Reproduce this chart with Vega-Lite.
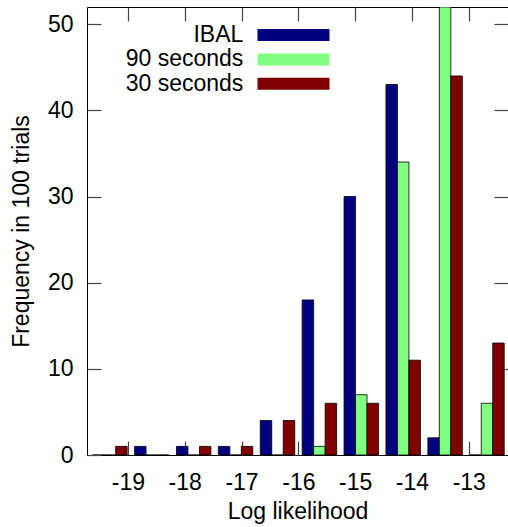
{
  "$schema": "https://vega.github.io/schema/vega-lite/v6.json",
  "autosize": {"type": "none"},
  "padding": {"left": 87, "top": 7, "right": 0, "bottom": 72},
  "width": 421,
  "height": 448,
  "config": {
    "font": "Liberation Sans",
    "view": {"stroke": "#000000", "strokeWidth": 1},
    "axis": {"grid": false, "domain": false, "labelFont": "Liberation Sans", "titleFont": "Liberation Sans", "labelFontSize": 23, "titleFontSize": 23, "labelColor": "#000", "titleColor": "#000", "titleFontWeight": "normal", "tickColor": "#444", "tickWidth": 1.2}
  },
  "layer": [
    {
      "data": {"values": [
        {"bin": -19.32, "series": "IBAL", "count": 0},
        {"bin": -19.32, "series": "90 seconds", "count": 0},
        {"bin": -19.32, "series": "30 seconds", "count": 1},
        {"bin": -18.58, "series": "IBAL", "count": 1},
        {"bin": -18.58, "series": "90 seconds", "count": 0},
        {"bin": -18.58, "series": "30 seconds", "count": 0},
        {"bin": -17.84, "series": "IBAL", "count": 1},
        {"bin": -17.84, "series": "90 seconds", "count": 0},
        {"bin": -17.84, "series": "30 seconds", "count": 1},
        {"bin": -17.11, "series": "IBAL", "count": 1},
        {"bin": -17.11, "series": "90 seconds", "count": 0},
        {"bin": -17.11, "series": "30 seconds", "count": 1},
        {"bin": -16.37, "series": "IBAL", "count": 4},
        {"bin": -16.37, "series": "90 seconds", "count": 0},
        {"bin": -16.37, "series": "30 seconds", "count": 4},
        {"bin": -15.63, "series": "IBAL", "count": 18},
        {"bin": -15.63, "series": "90 seconds", "count": 1},
        {"bin": -15.63, "series": "30 seconds", "count": 6},
        {"bin": -14.89, "series": "IBAL", "count": 30},
        {"bin": -14.89, "series": "90 seconds", "count": 7},
        {"bin": -14.89, "series": "30 seconds", "count": 6},
        {"bin": -14.15, "series": "IBAL", "count": 43},
        {"bin": -14.15, "series": "90 seconds", "count": 34},
        {"bin": -14.15, "series": "30 seconds", "count": 11},
        {"bin": -13.42, "series": "IBAL", "count": 2},
        {"bin": -13.42, "series": "90 seconds", "count": 52},
        {"bin": -13.42, "series": "30 seconds", "count": 44},
        {"bin": -12.68, "series": "IBAL", "count": 0},
        {"bin": -12.68, "series": "90 seconds", "count": 6},
        {"bin": -12.68, "series": "30 seconds", "count": 13}
      ]},
      "mark": {"type": "bar", "stroke": "#000", "strokeWidth": 1, "strokeOpacity": 0.8, "clip": true},
      "encoding": {
        "x": {"field": "bin", "type": "ordinal", "sort": "ascending", "axis": null,
              "scale": {"paddingInner": 0.177, "paddingOuter": 0.1125, "align": 0.6}},
        "xOffset": {"field": "series", "type": "nominal", "sort": ["IBAL", "90 seconds", "30 seconds"],
                    "scale": {"paddingInner": 0, "paddingOuter": 0}},
        "y": {"field": "count", "type": "quantitative", "scale": {"domain": [0, 52], "nice": false, "zero": true},
              "axis": {"orient": "left", "values": [0, 10, 20, 30, 40, 50], "tickSize": -14, "labelPadding": 28, "title": "Frequency in 100 trials", "titlePadding": 14}},
        "color": {"field": "series", "type": "nominal",
                  "scale": {"domain": ["IBAL", "90 seconds", "30 seconds"], "range": ["#000080", "#80ff80", "#800000"]},
                  "legend": {"title": null, "orient": "none", "legendX": 195, "legendY": 16.5, "padding": 0,
                             "symbolType": "M-6,-1L6,-1L6,1L-6,1Z", "symbolSize": 144,
                             "symbolStrokeWidth": 0, "symbolOpacity": 1, "rowPadding": 0.4,
                             "labelAlign": "right", "labelOffset": -61.7, "labelFontSize": 23, "labelFont": "Liberation Sans", "labelColor": "#000", "labelLimit": 300}}
      }
    },
    {
      "data": {"values": [{"ll": -19.72, "f": 0}, {"ll": -12.31, "f": 52}]},
      "mark": {"type": "point", "opacity": 0},
      "encoding": {
        "x": {"field": "ll", "type": "quantitative", "scale": {"domain": [-19.72, -12.31], "nice": false, "zero": false},
              "axis": {"orient": "bottom", "values": [-19, -18, -17, -16, -15, -14, -13], "labelExpr": "'' + datum.value", "tickSize": -14, "labelPadding": 30, "title": "Log likelihood", "titlePadding": 6}},
        "y": {"field": "f", "type": "quantitative", "scale": {"domain": [0, 52], "nice": false},
              "axis": {"orient": "right", "values": [10, 20, 30, 40, 50], "tickSize": -14, "labels": false, "title": null}}
      }
    },
    {
      "data": {"values": [{"ll": -19.72}, {"ll": -12.31}]},
      "mark": {"type": "point", "opacity": 0},
      "encoding": {
        "x": {"field": "ll", "type": "quantitative", "scale": {"domain": [-19.72, -12.31], "nice": false, "zero": false},
              "axis": {"orient": "top", "values": [-19, -18, -17, -16, -15, -14, -13], "tickSize": -14, "labels": false, "title": null}}
      }
    }
  ],
  "resolve": {"scale": {"x": "independent", "y": "independent"}}
}
